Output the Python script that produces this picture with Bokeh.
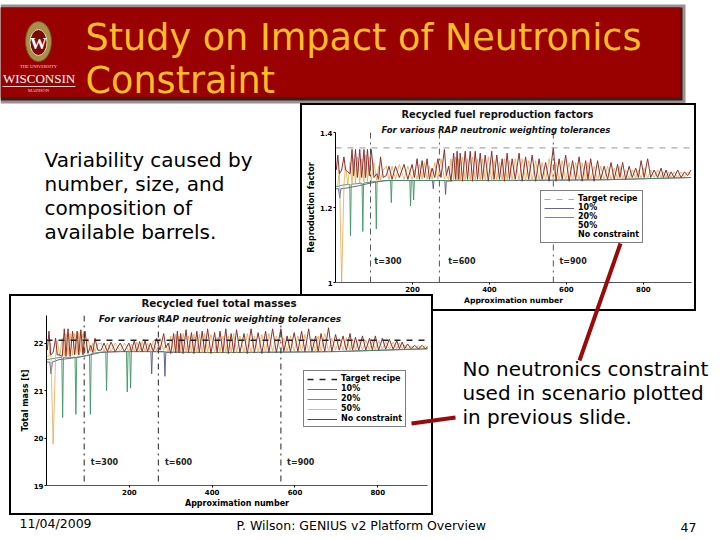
from bokeh.embed import file_html
from bokeh.layouts import column
from bokeh.models import FixedTicker, Label, Legend, LegendItem, Span
from bokeh.plotting import figure
from bokeh.resources import INLINE

# x positions of the spiky runs, same simulations in both charts
nc_x = [2, 6, 10, 16, 22, 26, 32, 38, 43, 47,
        52, 57, 63, 68, 74, 78, 83, 88, 93, 100,
        107, 112, 117, 124, 132, 139, 147, 156, 166, 178,
        188, 199, 205, 212, 218, 225, 231, 238, 244, 251,
        258, 266, 274, 283, 288, 294, 300, 307, 312, 316,
        320, 324, 330, 337, 343, 350, 356, 363, 369, 376,
        382, 389, 397, 406, 412, 419, 426, 433, 439, 446,
        452, 459, 467, 477, 485, 494, 502, 511, 520, 529,
        537, 546, 555, 566, 573, 581, 589, 598, 607, 616,
        624, 633, 641, 650, 656, 663, 672, 681, 689, 698,
        707, 716, 724, 733, 739, 746, 754, 763, 771, 780,
        787, 794, 802, 811, 819, 828, 837, 846, 852, 859,
        865, 872, 880, 889, 898, 907, 915, 924]

repro_nc = [1.30, 1.34, 1.29, 1.30, 1.335, 1.30, 1.295, 1.29, 1.355, 1.285,
            1.355, 1.28, 1.355, 1.28, 1.355, 1.28, 1.355, 1.285, 1.355, 1.28,
            1.29, 1.275, 1.335, 1.28, 1.285, 1.31, 1.275, 1.31, 1.28, 1.315,
            1.275, 1.315, 1.28, 1.33, 1.275, 1.325, 1.28, 1.33, 1.275, 1.305,
            1.28, 1.33, 1.28, 1.355, 1.285, 1.31, 1.27, 1.345, 1.275, 1.35,
            1.275, 1.345, 1.27, 1.35, 1.275, 1.35, 1.27, 1.35, 1.275, 1.345,
            1.275, 1.34, 1.27, 1.35, 1.275, 1.34, 1.275, 1.33, 1.27, 1.345,
            1.275, 1.33, 1.275, 1.345, 1.27, 1.335, 1.275, 1.34, 1.27, 1.33,
            1.275, 1.32, 1.27, 1.36, 1.27, 1.33, 1.275, 1.34, 1.27, 1.325,
            1.275, 1.335, 1.27, 1.325, 1.275, 1.33, 1.27, 1.325, 1.275, 1.31,
            1.275, 1.32, 1.275, 1.315, 1.28, 1.32, 1.275, 1.31, 1.28, 1.305,
            1.28, 1.325, 1.28, 1.33, 1.28, 1.30, 1.28, 1.305, 1.28, 1.30,
            1.28, 1.295, 1.28, 1.30, 1.28, 1.295, 1.285, 1.30]

mass_nc = [21.85, 22.25, 21.75, 21.8, 22.1, 21.75, 21.75, 21.72, 22.3, 21.72,
           22.3, 21.72, 22.25, 21.75, 22.25, 21.75, 22.28, 21.75, 22.25, 21.78,
           21.95, 21.8, 22.1, 21.85, 21.85, 22.0, 21.82, 22.02, 21.82, 22.0,
           21.82, 22.0, 21.82, 22.05, 21.82, 22.03, 21.82, 22.05, 21.82, 22.0,
           21.82, 22.1, 21.85, 22.2, 21.9, 22.0, 21.78, 22.2, 21.8, 22.25,
           21.8, 22.2, 21.78, 22.28, 21.8, 22.22, 21.78, 22.25, 21.8, 22.25,
           21.8, 22.3, 21.78, 22.22, 21.8, 22.25, 21.8, 22.3, 21.78, 22.2,
           21.8, 22.28, 21.8, 22.2, 21.78, 22.3, 21.8, 22.22, 21.78, 22.25,
           21.8, 22.3, 21.8, 22.3, 21.82, 22.15, 21.82, 22.22, 21.82, 22.25,
           21.82, 22.3, 21.82, 22.15, 21.82, 22.2, 21.82, 22.32, 21.82, 22.18,
           21.85, 22.15, 21.85, 22.2, 21.85, 22.12, 21.85, 22.15, 21.85, 22.1,
           21.85, 22.15, 21.85, 22.1, 21.87, 22.08, 21.87, 22.05, 21.88, 22.02,
           21.88, 21.98, 21.88, 21.95, 21.88, 21.95, 21.88, 21.95]

# 50% run, spikes fall between the red ones
repro_50 = [1.258, 1.26, 1.30, 1.0, 1.26, 1.31, 1.26, 1.32, 1.262, 1.33,
            1.265, 1.335, 1.265, 1.33, 1.268, 1.34, 1.27, 1.335, 1.27, 1.32,
            1.272, 1.31, 1.272, 1.30, 1.31, 1.274, 1.31, 1.275, 1.315, 1.275,
            1.31, 1.275, 1.30, 1.275, 1.315, 1.275, 1.32, 1.275, 1.31, 1.275,
            1.32, 1.275, 1.33, 1.276, 1.285, 1.275, 1.33, 1.272, 1.335, 1.272,
            1.33, 1.272, 1.335, 1.272, 1.33, 1.272, 1.335, 1.272, 1.33, 1.272,
            1.33, 1.272, 1.335, 1.272, 1.325, 1.272, 1.32, 1.272, 1.33, 1.272,
            1.325, 1.272, 1.33, 1.272, 1.33, 1.272, 1.325, 1.272, 1.325, 1.272,
            1.32, 1.272, 1.33, 1.272, 1.32, 1.272, 1.325, 1.272, 1.32, 1.272,
            1.32, 1.272, 1.32, 1.272, 1.32, 1.272, 1.31, 1.272, 1.31, 1.275,
            1.31, 1.275, 1.305, 1.276, 1.31, 1.276, 1.30, 1.277, 1.30, 1.278,
            1.30, 1.278, 1.305, 1.278, 1.30, 1.28, 1.30, 1.28, 1.295, 1.28,
            1.295, 1.28, 1.295, 1.28, 1.295, 1.282, 1.295, 1.285]

mass_50 = [21.72, 21.72, 22.0, 19.87, 21.72, 22.05, 21.72, 22.1, 21.74, 22.2,
           21.75, 22.2, 21.75, 22.2, 21.78, 22.22, 21.8, 22.2, 21.8, 22.1,
           21.82, 22.0, 21.82, 21.98, 22.0, 21.82, 22.0, 21.82, 22.0, 21.82,
           22.0, 21.82, 21.98, 21.82, 22.02, 21.82, 22.03, 21.82, 22.0, 21.82,
           22.05, 21.82, 22.1, 21.85, 21.95, 21.82, 22.15, 21.8, 22.18, 21.8,
           22.15, 21.8, 22.2, 21.8, 22.15, 21.8, 22.18, 21.8, 22.18, 21.8,
           22.2, 21.8, 22.18, 21.8, 22.12, 21.8, 22.15, 21.8, 22.15, 21.8,
           22.2, 21.8, 22.15, 21.8, 22.2, 21.8, 22.15, 21.8, 22.18, 21.8,
           22.2, 21.82, 22.15, 21.82, 22.1, 21.82, 22.15, 21.82, 22.15, 21.82,
           22.18, 21.82, 22.1, 21.82, 22.15, 21.82, 22.2, 21.82, 22.1, 21.85,
           22.1, 21.85, 22.12, 21.85, 22.08, 21.85, 22.08, 21.85, 22.06, 21.85,
           22.05, 21.86, 22.05, 21.87, 22.03, 21.87, 22.02, 21.88, 22.0, 21.88,
           21.96, 21.88, 21.94, 21.88, 21.94, 21.88, 21.94, 21.88]

# the other constrained runs, mostly hidden under the red one except for the dips
tol10_x = [0, 8, 11, 14, 30, 60, 90, 130, 180, 240, 252, 254, 256, 270, 284, 286, 288, 310, 500, 700, 924]
repro_10 = [1.25, 1.25, 1.225, 1.25, 1.252, 1.258, 1.265, 1.272, 1.272, 1.272, 1.272, 1.25, 1.272, 1.272, 1.272, 1.235, 1.27, 1.272, 1.272, 1.274, 1.28]
mass_10 = [21.6, 21.6, 21.35, 21.6, 21.65, 21.68, 21.72, 21.8, 21.82, 21.82, 21.82, 21.35, 21.82, 21.82, 21.82, 21.3, 21.8, 21.8, 21.8, 21.82, 21.88]

tol20_x = [0, 20, 37, 39, 41, 69, 71, 73, 104, 106, 108, 143, 145, 147, 193, 195, 197, 201, 203, 205, 240, 400, 700, 924]
repro_20 = [1.255, 1.26, 1.262, 1.125, 1.262, 1.265, 1.136, 1.265, 1.27, 1.143, 1.27, 1.272, 1.213, 1.272, 1.272, 1.204, 1.272, 1.272, 1.22, 1.272, 1.272, 1.272, 1.274, 1.28]
mass_20 = [21.65, 21.68, 21.7, 20.43, 21.7, 21.7, 20.5, 21.7, 21.75, 20.5, 21.78, 21.82, 21.0, 21.82, 21.82, 20.97, 21.82, 21.82, 21.05, 21.82, 21.82, 21.8, 21.82, 21.88]

repro_target = 1.359
mass_target = 22.06
t_marks = [91, 270, 566]
t_names = ["t=300", "t=600", "t=900"]
x_ticks = [200, 400, 600, 800]
repro_ticks = [1, 1.2, 1.4]
repro_tick_labels = {1: "1", 1.2: "1.2", 1.4: "1.4"}
mass_ticks = [19, 20, 21, 22]
mass_tick_labels = {19: "19", 20: "20", 21: "21", 22: "22"}
legend_names = ["Target recipe", "10%", "20%", "50%", "No constraint"]

FONT = "DejaVu Sans"
RED = "#990000"
GOLD = "#FFBE26"


def wrap(f, left, top, w, h, border=False):
    # own column per figure, otherwise bokeh lines up their frames
    st = {"position": "absolute", "left": f"{left}px", "top": f"{top}px"}
    if border:
        st.update({"border": "2px solid black", "box-sizing": "content-box", "background": "white"})
    return column(f, width=w, height=h, styles=st)


def slide_figure(name):
    f = figure(width=720, height=540, x_range=(0, 720), y_range=(540, 0), output_backend="svg",
               toolbar_location=None, min_border=0, name=name,
               x_axis_location=None, y_axis_location=None)
    f.grid.visible = False
    f.outline_line_color = None
    return f


def text(f, x, y, s, size, color="black", style="normal", font=FONT, align="left", angle=0):
    # labels come out about a third of the font size too low here
    f.add_layout(Label(x=x, y=y - 0.35 * size, text=s, text_font=font, text_font_size=f"{size}px", text_color=color,
                       text_font_style=style, text_align=align, text_baseline="alphabetic", angle=angle))


def chart(fr_w, fr_h, pads, xmax, ylim, ticks, labels, ylabel, target, target_style,
          t_color, series_y, nc_y, t_y, t_xs, leg_loc, leg_spacing, leg_blank, x_label_size):
    f = figure(frame_width=fr_w, frame_height=fr_h, x_range=(0, xmax), y_range=ylim, output_backend="svg",
               toolbar_location=None,
               min_border_left=pads[0], min_border_right=pads[1], min_border_top=pads[2], min_border_bottom=pads[3])
    f.grid.visible = False
    f.outline_line_color = None
    f.xaxis.ticker = FixedTicker(ticks=x_ticks)
    f.yaxis.ticker = FixedTicker(ticks=ticks)
    f.yaxis.major_label_overrides = labels
    f.xaxis.axis_line_color = "#555555"
    f.yaxis.axis_line_color = "black"
    f.axis.major_tick_in = 0
    f.axis.major_tick_out = 2
    f.axis.minor_tick_line_color = None
    f.axis.major_label_text_font = FONT
    f.axis.major_label_text_font_size = "7px"
    f.axis.major_label_text_font_style = "bold"
    f.axis.major_label_text_color = "black"
    f.axis.major_label_standoff = 1
    f.yaxis.axis_label = ylabel
    f.xaxis.axis_label = "Approximation number"
    f.axis.axis_label_text_font = FONT
    f.axis.axis_label_text_font_size = "8px"
    f.xaxis.axis_label_text_font_size = f"{x_label_size}px"
    f.axis.axis_label_text_font_style = "bold"
    f.axis.axis_label_text_color = "black"
    f.axis.axis_label_standoff = 1

    r10 = f.line(tol10_x, series_y[0], line_color="#55558a", line_width=0.9)
    r20 = f.line(tol20_x, series_y[1], line_color="#3f9465", line_width=0.9)
    r50 = f.line(nc_x, series_y[2], line_color="#e2a648", line_width=0.9, line_alpha=0.85)
    rnc = f.line(nc_x, nc_y, line_color="#8e2f30", line_width=1)
    rt = f.line([0, xmax], [target, target], **target_style)
    for m, name, tx in zip(t_marks, t_names, t_xs):
        f.add_layout(Span(location=m, dimension="height", line_color=t_color, line_dash="dashdot", line_width=1))
        f.add_layout(Label(x=tx, y=t_y, text=name, text_font=FONT, text_font_size="8px", text_font_style="bold",
                           text_color="#222222", text_baseline="alphabetic"))

    rs = [[rt], [r10], [r20], [] if leg_blank else [r50], [] if leg_blank else [rnc]]
    leg = Legend(items=[LegendItem(label=n, renderers=r) for n, r in zip(legend_names, rs)], location=leg_loc,
                 orientation="vertical", label_text_font=FONT, label_text_font_size="8px",
                 label_text_font_style="bold", label_text_color="black", label_height=8, glyph_height=8,
                 glyph_width=30, spacing=leg_spacing, padding=3, margin=0, label_standoff=4,
                 border_line_color="black", background_fill_color="white", background_fill_alpha=1)
    f.add_layout(leg, "center")
    return f


slide = slide_figure("slide")
slide.quad(left=[0], right=[685], top=[4], bottom=[103], fill_color="#9a9090", line_color=None)
slide.quad(left=[0], right=[682], top=[7], bottom=[100], fill_color="#3a1a1a", line_color=None)
slide.quad(left=[0], right=[680], top=[7], bottom=[97], fill_color=RED, line_color=None)
text(slide, 85, 50, "Study on Impact of Neutronics", 36.6, GOLD)
text(slide, 85, 93, "Constraint", 36.6, GOLD)
# logo
slide.ellipse(x=[38], y=[41], width=[26], height=[40], fill_color="#a89048", line_color="#6a5a20")
slide.ellipse(x=[38], y=[42], width=[17], height=[26], fill_color="#7a0a0a", line_color="#e8dcb0")
text(slide, 38, 49, "W", 17, "white", "bold", "Liberation Serif", "center")
text(slide, 38, 68, "THE UNIVERSITY", 4.5, "#f2d8d8", font="Liberation Serif", align="center")
text(slide, 38.5, 83, "WISCONSIN", 13, "white", font="Liberation Serif", align="center")
slide.line([2, 75], [86, 86], line_color="#f0c8c8", line_width=1)
text(slide, 38, 92, "MADISON", 4.5, "#f2d8d8", font="Liberation Serif", align="center")

for i, s in enumerate(["Variability caused by", "number, size, and", "composition of", "available barrels."]):
    text(slide, 44, 166 + 24 * i, s, 20)
for i, s in enumerate(["No neutronics constraint", "used in scenario plotted", "in previous slide."]):
    text(slide, 462, 375 + 24 * i, s, 20)
text(slide, 19, 527, "11/04/2009", 12.5)
text(slide, 236, 529, "P. Wilson: GENIUS v2 Platform Overview", 12.5)
text(slide, 680, 531, "47", 12.5)

repro = chart(356, 150, (33, 3, 27, 27), 925, (1, 1.4), repro_ticks, repro_tick_labels,
              "Reproduction factor", repro_target,
              dict(line_color="#aaaaaa", line_dash="dashed", line_width=1.2), "#555555",
              [repro_10, repro_20, repro_50], repro_nc, 1.055, [101, 293, 582], (205, 39), 0, True, 7.6)
mass = chart(381, 170, (35, 4, 19, 28), 920, (19, 22.58), mass_ticks, mass_tick_labels,
             "Total mass [t]", mass_target,
             dict(line_color="#222222", line_dash="dashed", line_width=1.6), "#222222",
             [mass_10, mass_20, mass_50], mass_nc, 19.48, [107, 286, 581], (257, 58), 1, False, 8)

top = slide_figure("overlay")
top.background_fill_alpha = 0
top.border_fill_alpha = 0
text(top, 497, 117, "Recycled fuel reproduction factors", 9.85, "#111111", "bold", align="center")
text(top, 495.5, 132, "For various RAP neutronic weighting tolerances", 8.5, "#111111", "bold italic", align="center")
text(top, 218.5, 306, "Recycled fuel total masses", 10.3, "#111111", "bold", align="center")
text(top, 219.5, 322, "For various RAP neutronic weighting tolerances", 9, "#111111", "bold italic", align="center")
top.line([620, 579], [243, 360], line_color="#990a0a", line_width=4)
top.line([411, 455], [423, 417], line_color="#990a0a", line_width=4)

p = column(wrap(slide, 0, 0, 720, 540), wrap(repro, 300, 103, 392, 204, True), wrap(mass, 9, 294, 420, 217, True),
           wrap(top, 0, 0, 720, 540), width=720, height=540,
           styles={"position": "absolute", "left": "0px", "top": "0px"})
open("out.html", "w").write(file_html(p, INLINE))
